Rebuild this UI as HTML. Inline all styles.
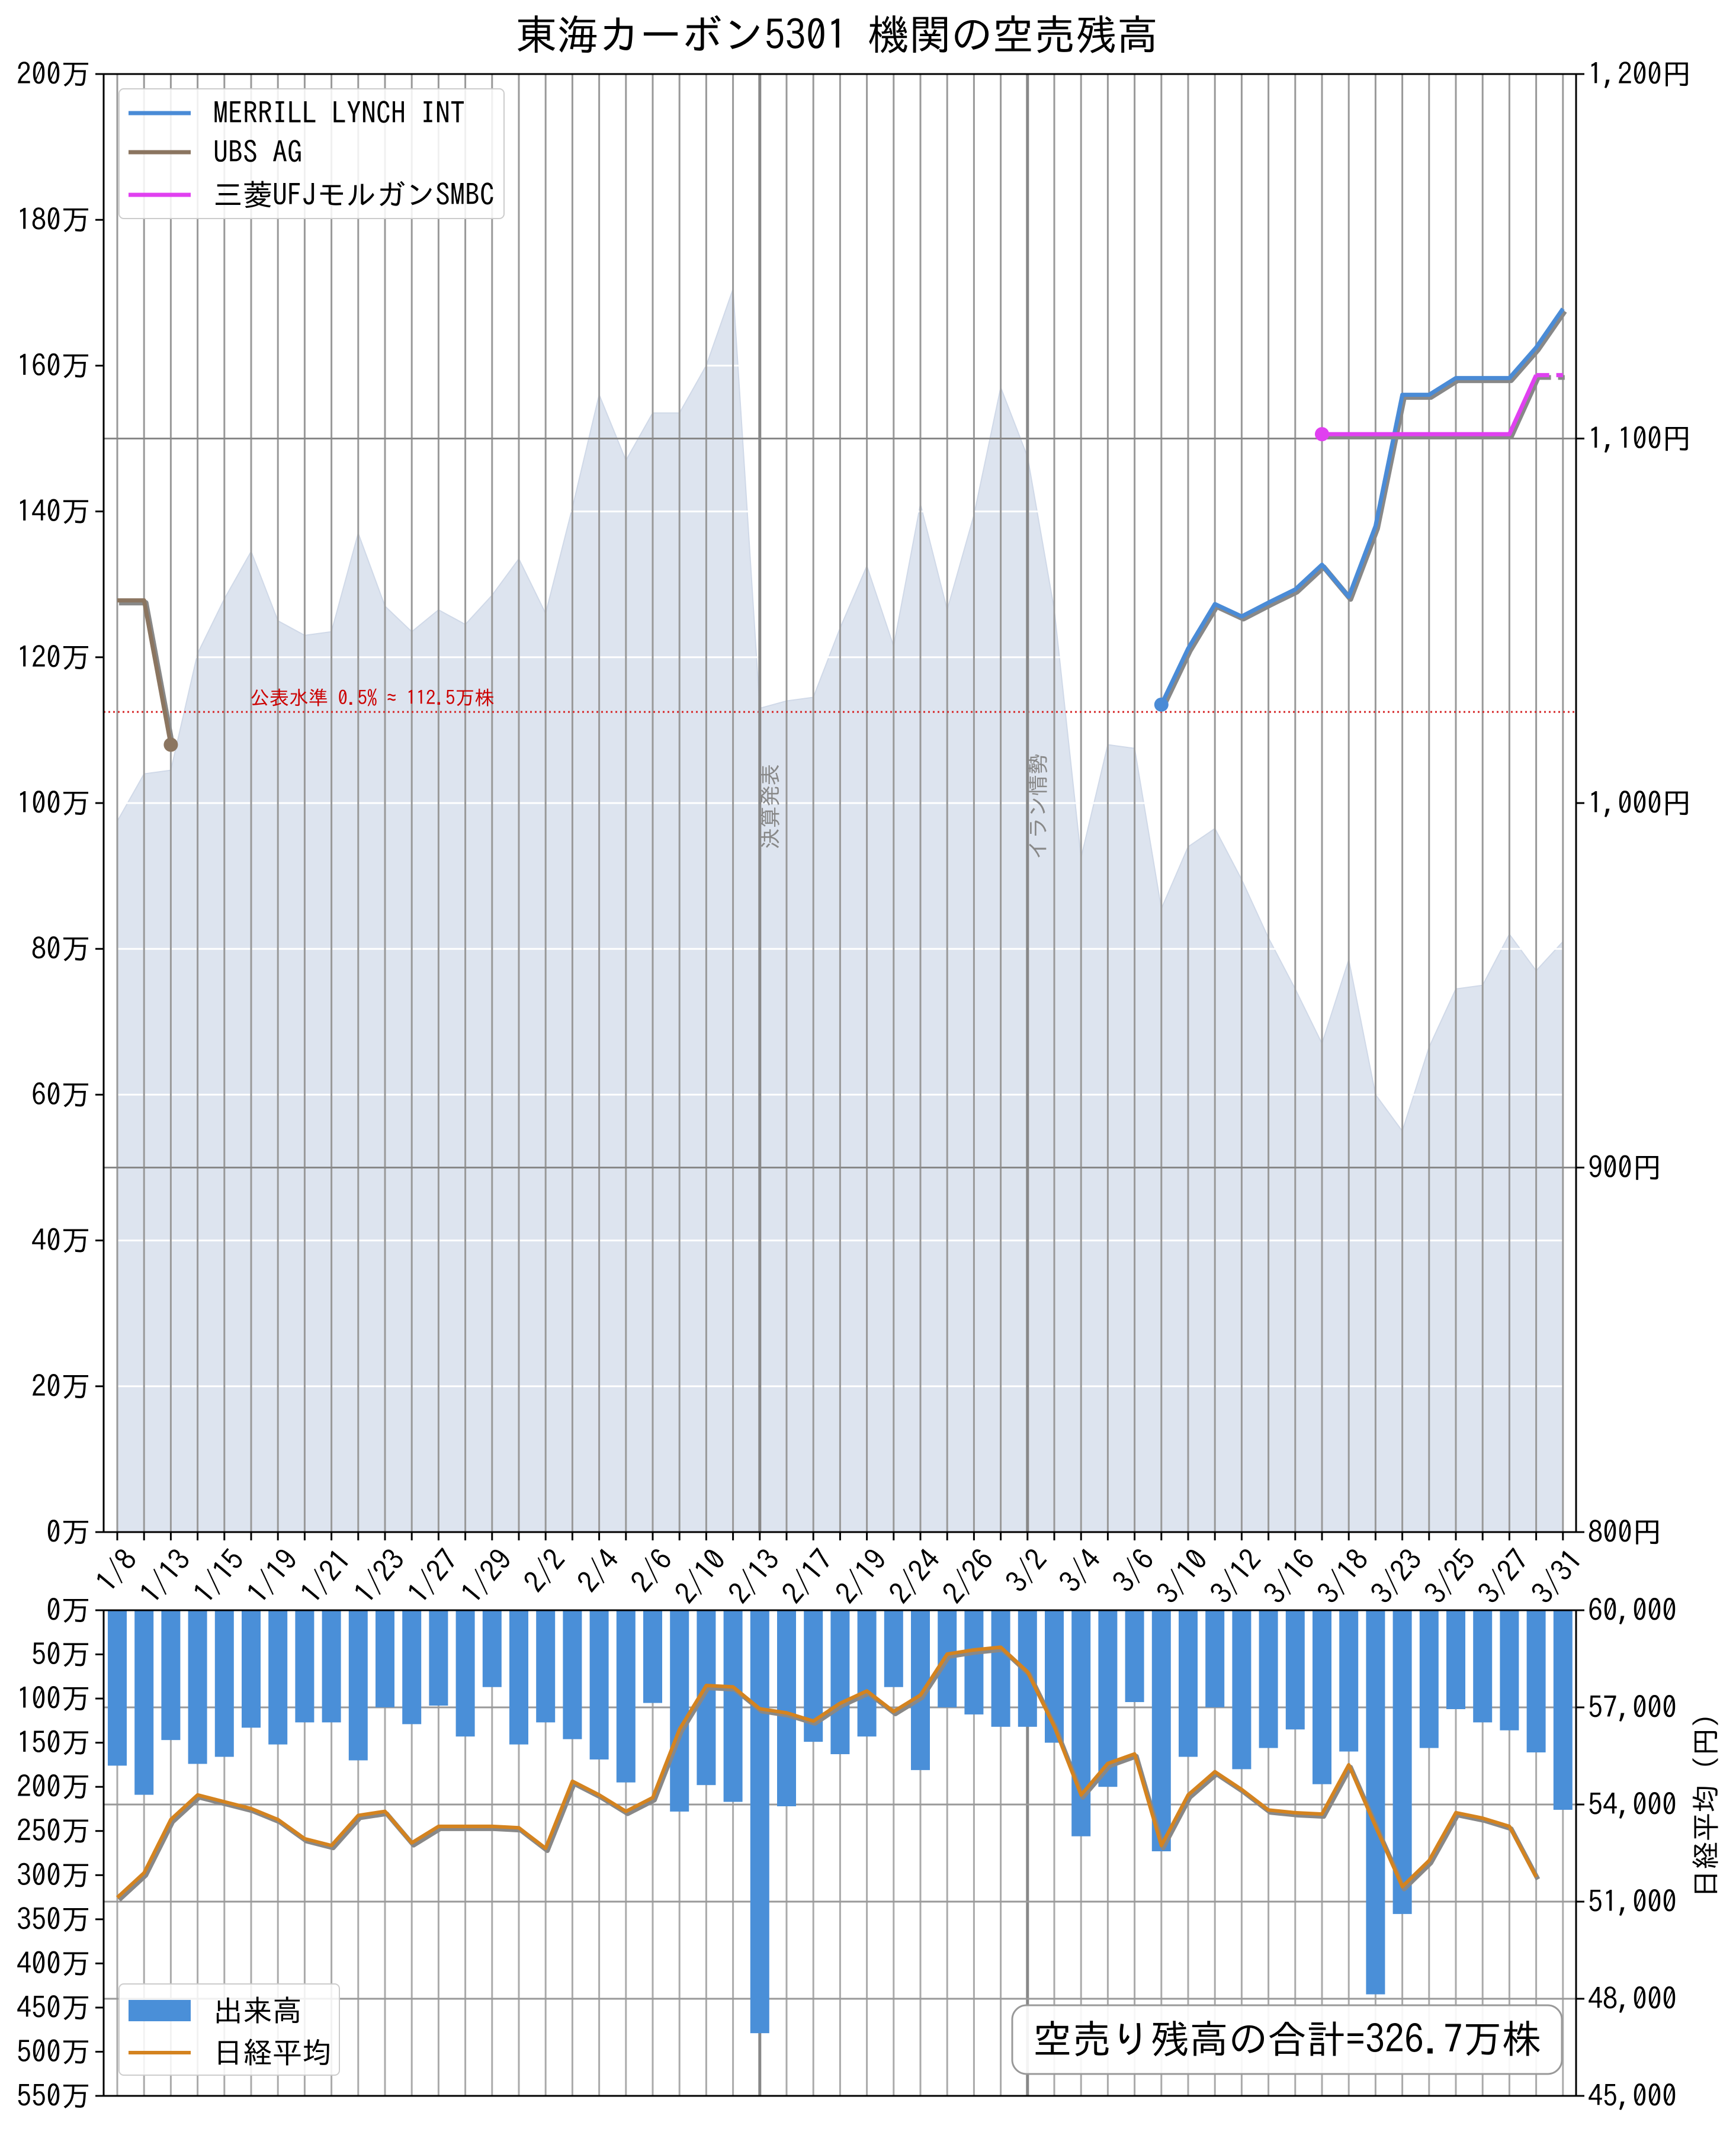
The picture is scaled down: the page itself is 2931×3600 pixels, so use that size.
<!DOCTYPE html>
<html><head><meta charset="utf-8">
<style>
html,body{margin:0;padding:0;background:#fff;}
svg{display:block;font-family:"IPAGothic","Liberation Sans","Noto Sans CJK JP",sans-serif;}
</style></head>
<body>
<svg id="chart" width="2931" height="3600" viewBox="0 0 2931 3600" xmlns="http://www.w3.org/2000/svg">
<text x="1413" y="84" font-size="70" text-anchor="middle">東海カーボン5301 機関の空売残高</text>
<g id="topg"></g>
<g id="botg"></g>
</svg>
<script>
const categories=["1/8","1/9","1/13","1/14","1/15","1/16","1/19","1/20","1/21","1/22","1/23","1/26","1/27","1/28","1/29","1/30","2/2","2/3","2/4","2/5","2/6","2/9","2/10","2/12","2/13","2/16","2/17","2/18","2/19","2/20","2/24","2/25","2/26","2/27","3/2","3/3","3/4","3/5","3/6","3/9","3/10","3/11","3/12","3/13","3/16","3/17","3/18","3/19","3/23","3/24","3/25","3/26","3/27","3/30","3/31"];
const priceValues=[995,1008,1009,1041,1056,1069,1050,1046,1047,1074,1054,1047,1053,1049,1057,1067,1052,1081,1112,1094,1107,1107,1120,1141,1026,1028,1029,1048,1065,1043,1082,1053,1079,1114,1095,1053,985,1016,1015,971,988,993,979,963,949,934,957,920,910,933,949,950,964,954,962];
const merrillValues=[null,null,null,null,null,null,null,null,null,null,null,null,null,null,null,null,null,null,null,null,null,null,null,null,null,null,null,null,null,null,null,null,null,null,null,null,null,null,null,113.5,121.2,127.3,125.6,127.5,129.3,132.7,128.3,138.0,156.0,156.0,158.3,158.3,158.3,162.5,167.8];
const ubsValues=[127.8,127.8,108.0];
const mufgValues=[null,null,null,null,null,null,null,null,null,null,null,null,null,null,null,null,null,null,null,null,null,null,null,null,null,null,null,null,null,null,null,null,null,null,null,null,null,null,null,null,null,null,null,null,null,150.6,150.6,150.6,150.6,150.6,150.6,150.6,150.6,158.7,158.7];
const volumeValues=[176,209,147,174,166,133,152,127,127,170,110,129,108,143,87,152,127,146,169,195,105,228,198,217,479,222,149,163,143,87,181,110,118,132,132,150,256,200,104,273,166,110,180,156,135,197,160,435,344,156,112,127,136,161,226];
const nikkeiValues=[51127,51888,53536,54296,54085,53874,53536,52944,52733,53663,53789,52817,53325,53325,53325,53282,52648,54719,54296,53789,54212,56324,57676,57634,56958,56831,56578,57127,57507,56873,57380,58648,58775,58859,58099,56409,54296,55268,55563,52733,54296,55014,54465,53831,53747,53705,55226,53325,51465,52268,53747,53578,53325,51761,null];
const leftTicks=[0,20,40,60,80,100,120,140,160,180,200];
const priceTicks=[800,900,1000,1100,1200];
const volTicks=[0,50,100,150,200,250,300,350,400,450,500,550];
const nikkeiTicks=[45000,48000,51000,54000,57000,60000];
const events=[{i:24,label:"決算発表"},{i:34,label:"イラン情勢"}];
const threshold=112.5;

const NS="http://www.w3.org/2000/svg";
const L=175,R=2661,T1=125,B1=2587,T2=2719,B2=3539;
const X0=198,DX=45.2;
const FS=50;
const xs=i=>X0+i*DX;
const yL=v=>B1-(v/200)*(B1-T1);
const yP=v=>B1-((v-800)/400)*(B1-T1);
const yV=v=>T2+(v/550)*(B2-T2);
const yN=v=>B2-((v-45000)/15000)*(B2-T2);
function mk(p,tag,a){const el=document.createElementNS(NS,tag);for(const k in a)el.setAttribute(k,a[k]);p.appendChild(el);return el;}
const gTop=document.getElementById('topg'),gBot=document.getElementById('botg');
let e;

let d=`M${xs(0)},${B1}`;priceValues.forEach((v,i)=>d+=` L${xs(i)},${yP(v)}`);d+=` L${xs(priceValues.length-1)},${B1}Z`;
e=mk(gTop,'path',{d:d,fill:'#dde4ef',stroke:'#d0d9e8','stroke-width':2});


leftTicks.forEach(v=>{e=mk(gTop,'line',{x1:L,x2:R,y1:yL(v),y2:yL(v),stroke:'#fff','stroke-width':3});

});
categories.forEach((c,i)=>{
 e=mk(gTop,'line',{x1:xs(i),x2:xs(i),y1:T1,y2:B1,stroke:'#999','stroke-width':3});
 
 
 e=mk(gBot,'line',{x1:xs(i),x2:xs(i),y1:T2,y2:B2,stroke:'#aaa','stroke-width':3});
 
 
});
[900,1100].forEach(v=>{e=mk(gTop,'line',{x1:L,x2:R,y1:yP(v),y2:yP(v),stroke:'#888','stroke-width':3});

});
e=mk(gTop,'line',{x1:L,x2:R,y1:yL(threshold),y2:yL(threshold),stroke:'#d62728','stroke-width':3,'stroke-dasharray':'3,5'});


e=mk(gTop,'text',{x:422,y:yL(threshold)-12,'font-size':33,fill:'#c00'});e.textContent='公表水準 0.5% ≈ 112.5万株';


events.forEach(ev=>{
 e=mk(gTop,'line',{x1:xs(ev.i),x2:xs(ev.i),y1:T1,y2:B1,stroke:'#888','stroke-width':5});
 
 
 e=mk(gBot,'line',{x1:xs(ev.i),x2:xs(ev.i),y1:T2,y2:B2,stroke:'#888','stroke-width':5});
 
 
 const tx=xs(ev.i)+30,ty=1362;
 e=mk(gTop,'text',{x:tx,y:ty,'font-size':36,fill:'#888','text-anchor':'middle',transform:`rotate(-90 ${tx} ${ty})`});e.textContent=ev.label;
 
 
});
function series(vals,color,name,dashLast,markerEnd){
 const pts=[];vals.forEach((v,i)=>{if(v!=null)pts.push([xs(i),yL(v)]);});
 const main=dashLast?pts.slice(0,-1):pts;
 const pstr=p=>p.map(q=>q.join(',')).join(' ');
 e=mk(gTop,'polyline',{points:pstr(main.map(q=>[q[0]+3,q[1]+4])),fill:'none',stroke:'#888','stroke-width':9,'stroke-linejoin':'round'});
 
 
 e=mk(gTop,'polyline',{points:pstr(main),fill:'none',stroke:color,'stroke-width':7,'stroke-linejoin':'round'});
 
 
 if(dashLast){const l=pts.slice(-2);
  e=mk(gTop,'polyline',{points:pstr(l.map(q=>[q[0]+3,q[1]+4])),fill:'none',stroke:'#888','stroke-width':8,'stroke-dasharray':'22,12'});
  
  
  e=mk(gTop,'polyline',{points:pstr(l),fill:'none',stroke:color,'stroke-width':7,'stroke-dasharray':'22,12'});
  
  }
 const mp=markerEnd?pts[pts.length-1]:pts[0];
 e=mk(gTop,'circle',{cx:mp[0],cy:mp[1],r:12,fill:color});
 
 
}
series(ubsValues,'#8b7560','ubs',false,true);
series(merrillValues,'#4a8bd6','merrill');
series(mufgValues,'#e040f0','mufg',true);
mk(gTop,'rect',{x:L,y:T1,width:R-L,height:B1-T1,fill:'none',stroke:'#000','stroke-width':3});
leftTicks.forEach(v=>{mk(gTop,'line',{x1:L-14,x2:L,y1:yL(v),y2:yL(v),stroke:'#000','stroke-width':3});
 e=mk(gTop,'text',{x:L-22,y:yL(v)+18,'font-size':FS,'text-anchor':'end'});e.textContent=v+'万';
 
 });
priceTicks.forEach(v=>{mk(gTop,'line',{x1:R,x2:R+14,y1:yP(v),y2:yP(v),stroke:'#000','stroke-width':3});
 e=mk(gTop,'text',{x:R+20,y:yP(v)+18,'font-size':FS});e.textContent=v.toLocaleString('en-US')+'円';
 
 });
categories.forEach((c,i)=>{mk(gTop,'line',{x1:xs(i),x2:xs(i),y1:B1,y2:B1+14,stroke:'#000','stroke-width':3});
 if(i%2===0){const tx=xs(i)+10,ty=B1+26;
  e=mk(gTop,'text',{x:tx,y:ty,'font-size':FS,'text-anchor':'end','dominant-baseline':'hanging',transform:`rotate(-50 ${tx} ${ty})`});e.textContent=c;
  
  }});
e=mk(gTop,'rect',{x:201,y:150,width:650,height:219,rx:8,fill:'#fff','fill-opacity':0.85,stroke:'#ccc','stroke-width':2});


[['MERRILL LYNCH INT','#4a8bd6',191],['UBS AG','#8b7560',257],['三菱UFJモルガンSMBC','#e040f0',329]].forEach(a=>{
 e=mk(gTop,'line',{x1:217,x2:322,y1:a[2],y2:a[2],stroke:a[1],'stroke-width':7});
 
 
 e=mk(gTop,'text',{x:360,y:a[2]+18,'font-size':50});e.textContent=a[0];
 
 });

nikkeiTicks.forEach(v=>{if(v>45000&&v<60000){e=mk(gBot,'line',{x1:L,x2:R,y1:yN(v),y2:yN(v),stroke:'#999','stroke-width':3});
 
 }});
volumeValues.forEach((v,i)=>{e=mk(gBot,'rect',{x:xs(i)-16,y:T2,width:32,height:yV(v)-T2,fill:'#4a8fd8'});
 
 });
const np=[];nikkeiValues.forEach((v,i)=>{if(v!=null)np.push([xs(i),yN(v)]);});
e=mk(gBot,'polyline',{points:np.map(q=>(q[0]+3)+','+(q[1]+4)).join(' '),fill:'none',stroke:'#888','stroke-width':8,'stroke-linejoin':'round'});


e=mk(gBot,'polyline',{points:np.map(q=>q.join(',')).join(' '),fill:'none',stroke:'#d4831f','stroke-width':6,'stroke-linejoin':'round'});


mk(gBot,'rect',{x:L,y:T2,width:R-L,height:B2-T2,fill:'none',stroke:'#000','stroke-width':3});
volTicks.forEach(v=>{mk(gBot,'line',{x1:L-14,x2:L,y1:yV(v),y2:yV(v),stroke:'#000','stroke-width':3});
 e=mk(gBot,'text',{x:L-22,y:yV(v)+18,'font-size':FS,'text-anchor':'end'});e.textContent=v+'万';
 
 });
nikkeiTicks.forEach(v=>{mk(gBot,'line',{x1:R,x2:R+14,y1:yN(v),y2:yN(v),stroke:'#000','stroke-width':3});
 e=mk(gBot,'text',{x:R+20,y:yN(v)+18,'font-size':FS});e.textContent=v.toLocaleString('en-US');
 
 });
e=mk(gBot,'text',{x:2897,y:3037,'font-size':48,'text-anchor':'middle',transform:'rotate(-90 2897 3037)'});e.textContent='日経平均（円）';


e=mk(gBot,'rect',{x:201,y:3350,width:372,height:154,rx:8,fill:'#fff','fill-opacity':0.85,stroke:'#ccc','stroke-width':2});


e=mk(gBot,'rect',{x:217,y:3377,width:105,height:36,fill:'#4a8fd8'});


e=mk(gBot,'text',{x:360,y:3413,'font-size':50});e.textContent='出来高';


e=mk(gBot,'line',{x1:217,x2:322,y1:3466,y2:3466,stroke:'#d4831f','stroke-width':6});


e=mk(gBot,'text',{x:360,y:3484,'font-size':50});e.textContent='日経平均';


e=mk(gBot,'rect',{x:1709,y:3386,width:928,height:116,rx:24,fill:'#fff','fill-opacity':0.9,stroke:'#999','stroke-width':3});


e=mk(gBot,'text',{x:2173,y:3467,'font-size':66,'text-anchor':'middle'});e.textContent='空売り残高の合計=326.7万株';


</script>
</body></html>
